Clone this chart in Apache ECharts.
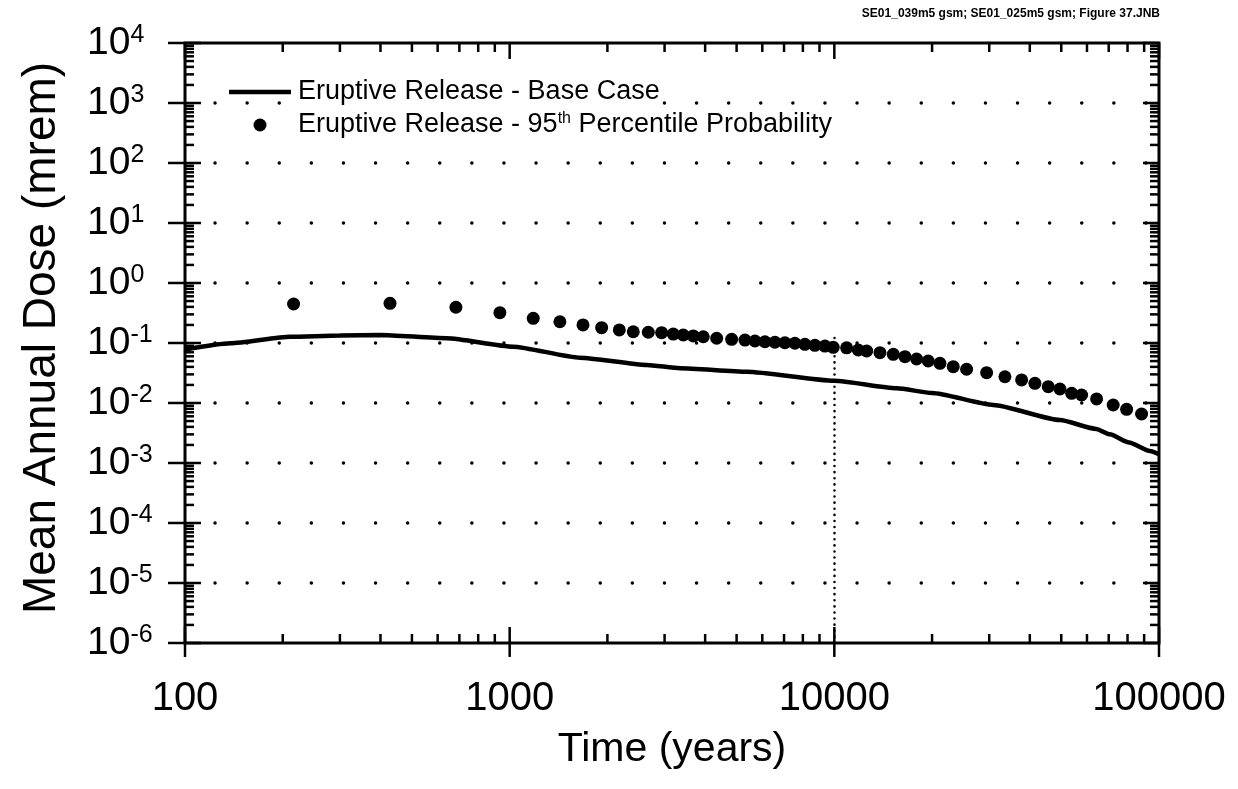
<!DOCTYPE html>
<html><head><meta charset="utf-8">
<script src="https://cdn.jsdelivr.net/npm/echarts@6/dist/echarts.min.js"></script>
<style>html,body{margin:0;padding:0;background:#fff}#c{width:1238px;height:789px}</style>
</head><body><div id="c"></div>
<script>
// ---- data ----
const baseName = 'Eruptive Release - Base Case';
const pctName = 'Eruptive Release - 95th Percentile Probability';
const baseTime = [100, 138, 211, 300, 399, 641, 1024, 1646, 2642, 3350, 5370, 10000, 15560, 20000, 30860, 49520, 64100, 70610, 80900, 93760, 100000];
const baseDose = [0.078, 0.099, 0.127, 0.133, 0.136, 0.12, 0.087, 0.057, 0.043, 0.038, 0.0332, 0.0235, 0.0176, 0.0147, 0.0093, 0.0052, 0.0037, 0.0030, 0.0022, 0.00158, 0.0014];
const pctTime = [216, 428, 683, 933, 1182, 1428, 1682, 1920, 2176, 2403, 2673, 2938, 3191, 3425, 3677, 3947, 4341, 4828, 5305, 5695, 6113, 6562, 7043, 7560, 8116, 8713, 9354, 9922, 10910, 11850, 12580, 13820, 15190, 16500, 17920, 19460, 21150, 23240, 25550, 29450, 33530, 37740, 41480, 45590, 49520, 53820, 57760, 64240, 72250, 79470, 88380];
const pctDose = [0.447, 0.459, 0.394, 0.32, 0.258, 0.226, 0.2, 0.18, 0.165, 0.154, 0.151, 0.1485, 0.141, 0.136, 0.131, 0.127, 0.12, 0.115, 0.112, 0.108, 0.105, 0.103, 0.101, 0.099, 0.095, 0.0916, 0.089, 0.0848, 0.083, 0.0764, 0.0736, 0.069, 0.0648, 0.0591, 0.0541, 0.0501, 0.0459, 0.0403, 0.0365, 0.032, 0.0274, 0.0242, 0.0213, 0.0187, 0.0171, 0.0145, 0.0136, 0.0117, 0.00926, 0.00785, 0.00656];
const xTickValues = [100, 1000, 10000, 100000];
const xTickLabels = ['100', '1000', '10000', '100000'];
const yTickExponents = [-6, -5, -4, -3, -2, -1, 0, 1, 2, 3, 4];
const yGridExponents = [-5, -4, -3, -2, -1, 0, 1, 2, 3];
const minorMultipliers = [2, 3, 4, 5, 6, 7, 8, 9];
const refLineTime = 10000;
const refLineDose = [1e-6, 0.15];
const xTitle = 'Time (years)';
const yTitle = 'Mean Annual Dose (mrem)';
const note = 'SE01_039m5 gsm; SE01_025m5 gsm; Figure 37.JNB';

// ---- build ----
const FONT = '"Liberation Sans", Arial, Helvetica, sans-serif';
const chart = echarts.init(document.getElementById('c'));

const tickData = [];
xTickValues.forEach(v => tickData.push([v, 1, 1]));
xTickValues.slice(0, -1).forEach(v => minorMultipliers.forEach(m => tickData.push([v * m, 1, 0])));
yTickExponents.forEach(e => tickData.push([1000, Math.pow(10, e), 3]));
yTickExponents.slice(0, -1).forEach(e => minorMultipliers.forEach(m => tickData.push([1000, m * Math.pow(10, e), 2])));
const gridData = yGridExponents.map(e => [1000, Math.pow(10, e)]);

function renderTick(params, api) {
  const cs = params.coordSys;
  const L = cs.x, T = cs.y, R = cs.x + cs.width, B = cs.y + cs.height;
  const kind = api.value(2);
  const p = api.coord([api.value(0), api.value(1)]);
  let segs;
  if (kind === 0) segs = [[p[0], B, p[0], B - 9], [p[0], T, p[0], T + 9]];
  else if (kind === 1) segs = [[p[0], B + 14, p[0], B - 16], [p[0], T, p[0], T + 16]];
  else if (kind === 2) segs = [[L, p[1], L + 9, p[1]], [R, p[1], R - 9, p[1]]];
  else segs = [[L - 17, p[1], L + 16, p[1]], [R, p[1], R - 16, p[1]]];
  return {
    type: 'group',
    children: segs.map(s => ({ type: 'line', shape: { x1: s[0], y1: s[1], x2: s[2], y2: s[3] }, style: { stroke: '#000', lineWidth: 2.5 } }))
  };
}
function renderGrid(params, api) {
  const cs = params.coordSys;
  const p = api.coord([api.value(0), api.value(1)]);
  return { type: 'line', shape: { x1: cs.x + 30, y1: p[1], x2: cs.x + cs.width - 10, y2: p[1] },
    style: { stroke: '#000', lineWidth: 3.4, lineDash: [0.1, 32], lineCap: 'round' } };
}

const option = {
  animation: false,
  backgroundColor: '#fff',
  grid: { left: 185, right: 79, top: 43, bottom: 146, show: true, borderColor: '#000', borderWidth: 3, backgroundColor: 'transparent' },
  xAxis: {
    type: 'log', logBase: 10, min: 100, max: 100000, interval: 1,
    axisLine: { show: false }, axisTick: { show: false }, splitLine: { show: false },
    axisLabel: {
      color: '#000', fontFamily: FONT, fontSize: 40, margin: 36,
      formatter: v => { const i = xTickValues.findIndex(t => Math.abs(t - v) / t < 1e-6); return i >= 0 ? xTickLabels[i] : ''; }
    }
  },
  yAxis: {
    type: 'log', logBase: 10, min: 1e-6, max: 1e4, interval: 1,
    axisLine: { show: false }, axisTick: { show: false }, splitLine: { show: false },
    axisLabel: {
      align: 'left', margin: 98,
      formatter: v => '{b|10}{s|' + Math.round(Math.log10(v)) + '}',
      rich: {
        b: { fontFamily: FONT, fontSize: 39, color: '#000', lineHeight: 40 },
        s: { fontFamily: FONT, fontSize: 25, color: '#000', verticalAlign: 'top', lineHeight: 26 }
      }
    }
  },
  legend: {
    data: [
      { name: baseName, icon: 'path://M0,0L60,0L60,4.5L0,4.5Z', itemStyle: { color: '#000' } },
      { name: pctName, icon: 'circle', itemStyle: { color: '#000' } }
    ],
    orient: 'vertical', left: 229, top: 78, padding: 0, z: 10,
    itemWidth: 62, itemHeight: 13, itemGap: 5, selectedMode: false,
    textStyle: {
      color: '#000', fontFamily: FONT, fontSize: 27, lineHeight: 28, backgroundColor: '#fff', padding: [0, 0, 0, 2],
      rich: { sup: { fontFamily: FONT, fontSize: 16, color: '#000', verticalAlign: 'top', lineHeight: 16, backgroundColor: '#fff' } }
    },
    formatter: n => n.replace('95th', '95{sup|th}')
  },
  graphic: [
    { type: 'text', x: 42, y: 338, rotation: Math.PI / 2,
      style: { text: yTitle, fill: '#000', font: '46px ' + FONT, textAlign: 'center', textVerticalAlign: 'middle' } },
    { type: 'text', x: 672, y: 750,
      style: { text: xTitle, fill: '#000', font: '41px ' + FONT, textAlign: 'center', textVerticalAlign: 'middle' } },
    { type: 'text', x: 1160, y: 14,
      style: { text: note, fill: '#000', font: 'bold 12px ' + FONT, textAlign: 'right', textVerticalAlign: 'middle' } }
  ],
  series: [
    {
      name: 'grid', type: 'custom', coordinateSystem: 'cartesian2d', data: gridData,
      encode: { x: 0, y: 1 }, renderItem: renderGrid, clip: false, silent: true, z: 1
    },
    {
      name: baseName, type: 'line', data: baseTime.map((t, i) => [t, baseDose[i]]),
      symbol: 'none', smooth: 0.2, smoothMonotone: 'x', lineStyle: { color: '#000', width: 4.5 }, itemStyle: { color: '#000' }, z: 3
    },
    {
      name: pctName, type: 'scatter', data: pctTime.map((t, i) => [t, pctDose[i]]),
      symbol: 'circle', symbolSize: 13, itemStyle: { color: '#000', opacity: 1 }, z: 4,
      markLine: {
        silent: true, symbol: 'none', label: { show: false },
        lineStyle: { color: '#000', width: 2.5, type: [0.1, 6], cap: 'round' },
        data: [[{ coord: [refLineTime, refLineDose[0]] }, { coord: [refLineTime, refLineDose[1]] }]]
      }
    },
    {
      name: 'ticks', type: 'custom', coordinateSystem: 'cartesian2d', data: tickData,
      encode: { x: 0, y: 1 }, renderItem: renderTick, clip: false, silent: true, z: 6
    }
  ]
};
chart.setOption(option);
</script></body></html>
